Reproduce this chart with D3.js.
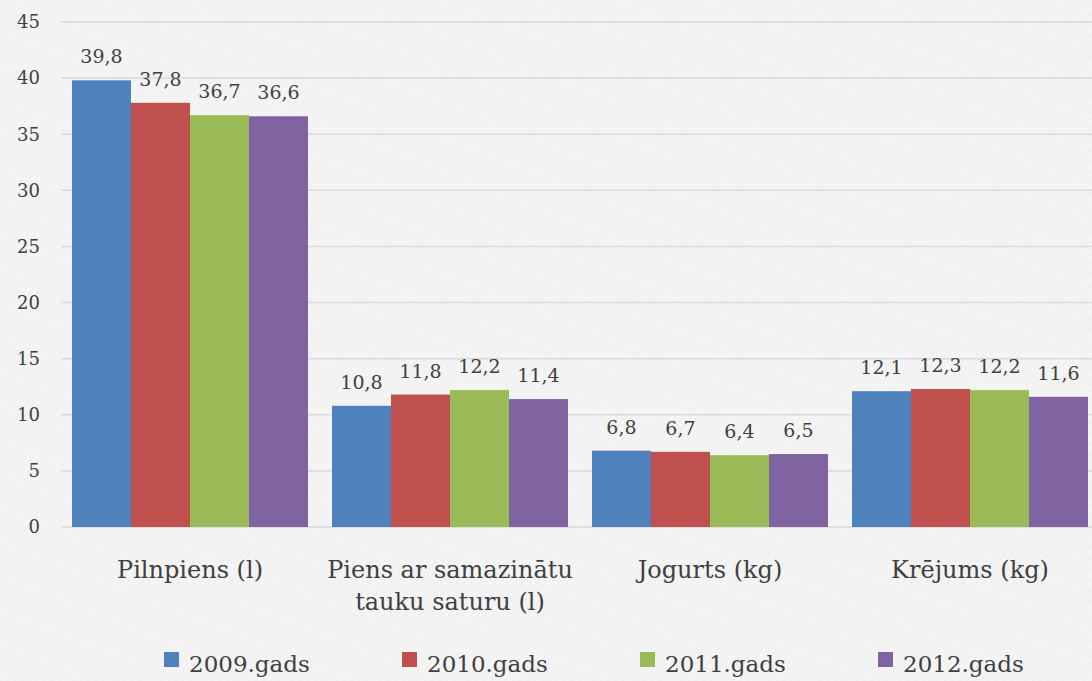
<!DOCTYPE html>
<html>
<head>
<meta charset="utf-8">
<script src="https://cdn.jsdelivr.net/npm/d3@7"></script>
<style>
  html, body { margin: 0; padding: 0; background: #f4f4f4; }
  svg { display: block; }
</style>
</head>
<body>
<svg id="chart" width="1092" height="681"></svg>
<script>
const categories = ["Pilnpiens (l)", "Piens ar samazinātu tauku saturu (l)", "Jogurts (kg)", "Krējums (kg)"];
const seriesNames = ["2009.gads", "2010.gads", "2011.gads", "2012.gads"];
const values2009 = [39.8, 10.8, 6.8, 12.1];
const values2010 = [37.8, 11.8, 6.7, 12.3];
const values2011 = [36.7, 12.2, 6.4, 12.2];
const values2012 = [36.6, 11.4, 6.5, 11.6];
const yTicks = [0, 5, 10, 15, 20, 25, 30, 35, 40, 45];
const colors = ["#4f81bd", "#c0504d", "#9bbb59", "#8064a2"];

const seriesValues = [values2009, values2010, values2011, values2012];
const FONT = "'DejaVu Serif', serif";
const svg = d3.select("#chart").attr("font-family", FONT);

// subtle textured background
const defs = svg.append("defs");
const pat = defs.append("pattern").attr("id", "tex").attr("width", 6).attr("height", 6)
  .attr("patternUnits", "userSpaceOnUse").attr("patternTransform", "rotate(35)");
pat.append("rect").attr("width", 6).attr("height", 6).attr("fill", "#f4f4f4");
pat.append("line").attr("x1", 0).attr("y1", 0).attr("x2", 0).attr("y2", 6)
  .attr("stroke", "#eeeeee").attr("stroke-width", 2);
svg.append("rect").attr("width", 1092).attr("height", 681).attr("fill", "url(#tex)");

const y = d3.scaleLinear().domain([0, 45]).range([527, 22]);
const x = d3.scaleBand().domain(categories).range([60, 1100]).paddingInner(0.0923).paddingOuter(0.0462);
const xs = d3.scaleBand().domain(seriesNames).range([0, x.bandwidth()]);

// gridlines
svg.append("g").selectAll("line").data(yTicks).join("line")
  .attr("x1", 61).attr("x2", 1092)
  .attr("y1", d => y(d)).attr("y2", d => y(d))
  .attr("stroke", "#d9d9d9").attr("stroke-width", 1.5);

// y labels
svg.append("g").selectAll("text").data(yTicks).join("text")
  .attr("x", 40).attr("y", d => y(d)).attr("dy", "0.35em")
  .attr("text-anchor", "end").attr("font-size", 18)
  .attr("font-family", FONT).attr("fill", "#404040").text(d => d);

const fmt = v => d3.format(".1f")(v).replace(".", ",");

// bars
const groups = svg.append("g").selectAll("g").data(categories).join("g")
  .attr("transform", d => `translate(${x(d)},0)`);

seriesNames.forEach((s, si) => {
  groups.append("rect")
    .attr("x", xs(s)).attr("width", xs.bandwidth())
    .attr("y", (d, i) => y(seriesValues[si][i]))
    .attr("height", (d, i) => y(0) - y(seriesValues[si][i]))
    .attr("fill", colors[si]);
  groups.append("text")
    .attr("x", xs(s) + xs.bandwidth() / 2)
    .attr("y", (d, i) => y(seriesValues[si][i]) - 17)
    .attr("text-anchor", "middle").attr("font-size", 19)
    .attr("font-family", FONT).attr("fill", "#404040")
    .text((d, i) => fmt(seriesValues[si][i]));
});

// category labels with wrap
groups.append("text")
  .attr("x", x.bandwidth() / 2).attr("y", 578)
  .attr("text-anchor", "middle").attr("font-size", 24)
  .attr("font-family", FONT).attr("fill", "#404040")
  .each(function(d) {
    const t = d3.select(this);
    const words = d.split(" ");
    let line = [];
    let tsp = t.append("tspan").attr("x", x.bandwidth() / 2).attr("dy", 0);
    words.forEach(w => {
      line.push(w);
      tsp.text(line.join(" "));
      if (tsp.node().getComputedTextLength() > 250 && line.length > 1) {
        line.pop();
        tsp.text(line.join(" "));
        line = [w];
        tsp = t.append("tspan").attr("x", x.bandwidth() / 2).attr("dy", 32).text(w);
      }
    });
  });

// legend
const legend = svg.append("g").selectAll("g").data(seriesNames).join("g")
  .attr("transform", (d, i) => `translate(${164 + i * 238},0)`);
legend.append("rect").attr("x", 0).attr("y", 652).attr("width", 15).attr("height", 15)
  .attr("fill", (d, i) => colors[i]);
legend.append("text").attr("x", 25).attr("y", 672).attr("font-size", 23)
  .attr("font-family", FONT).attr("fill", "#404040").text(d => d);
</script>
</body>
</html>
